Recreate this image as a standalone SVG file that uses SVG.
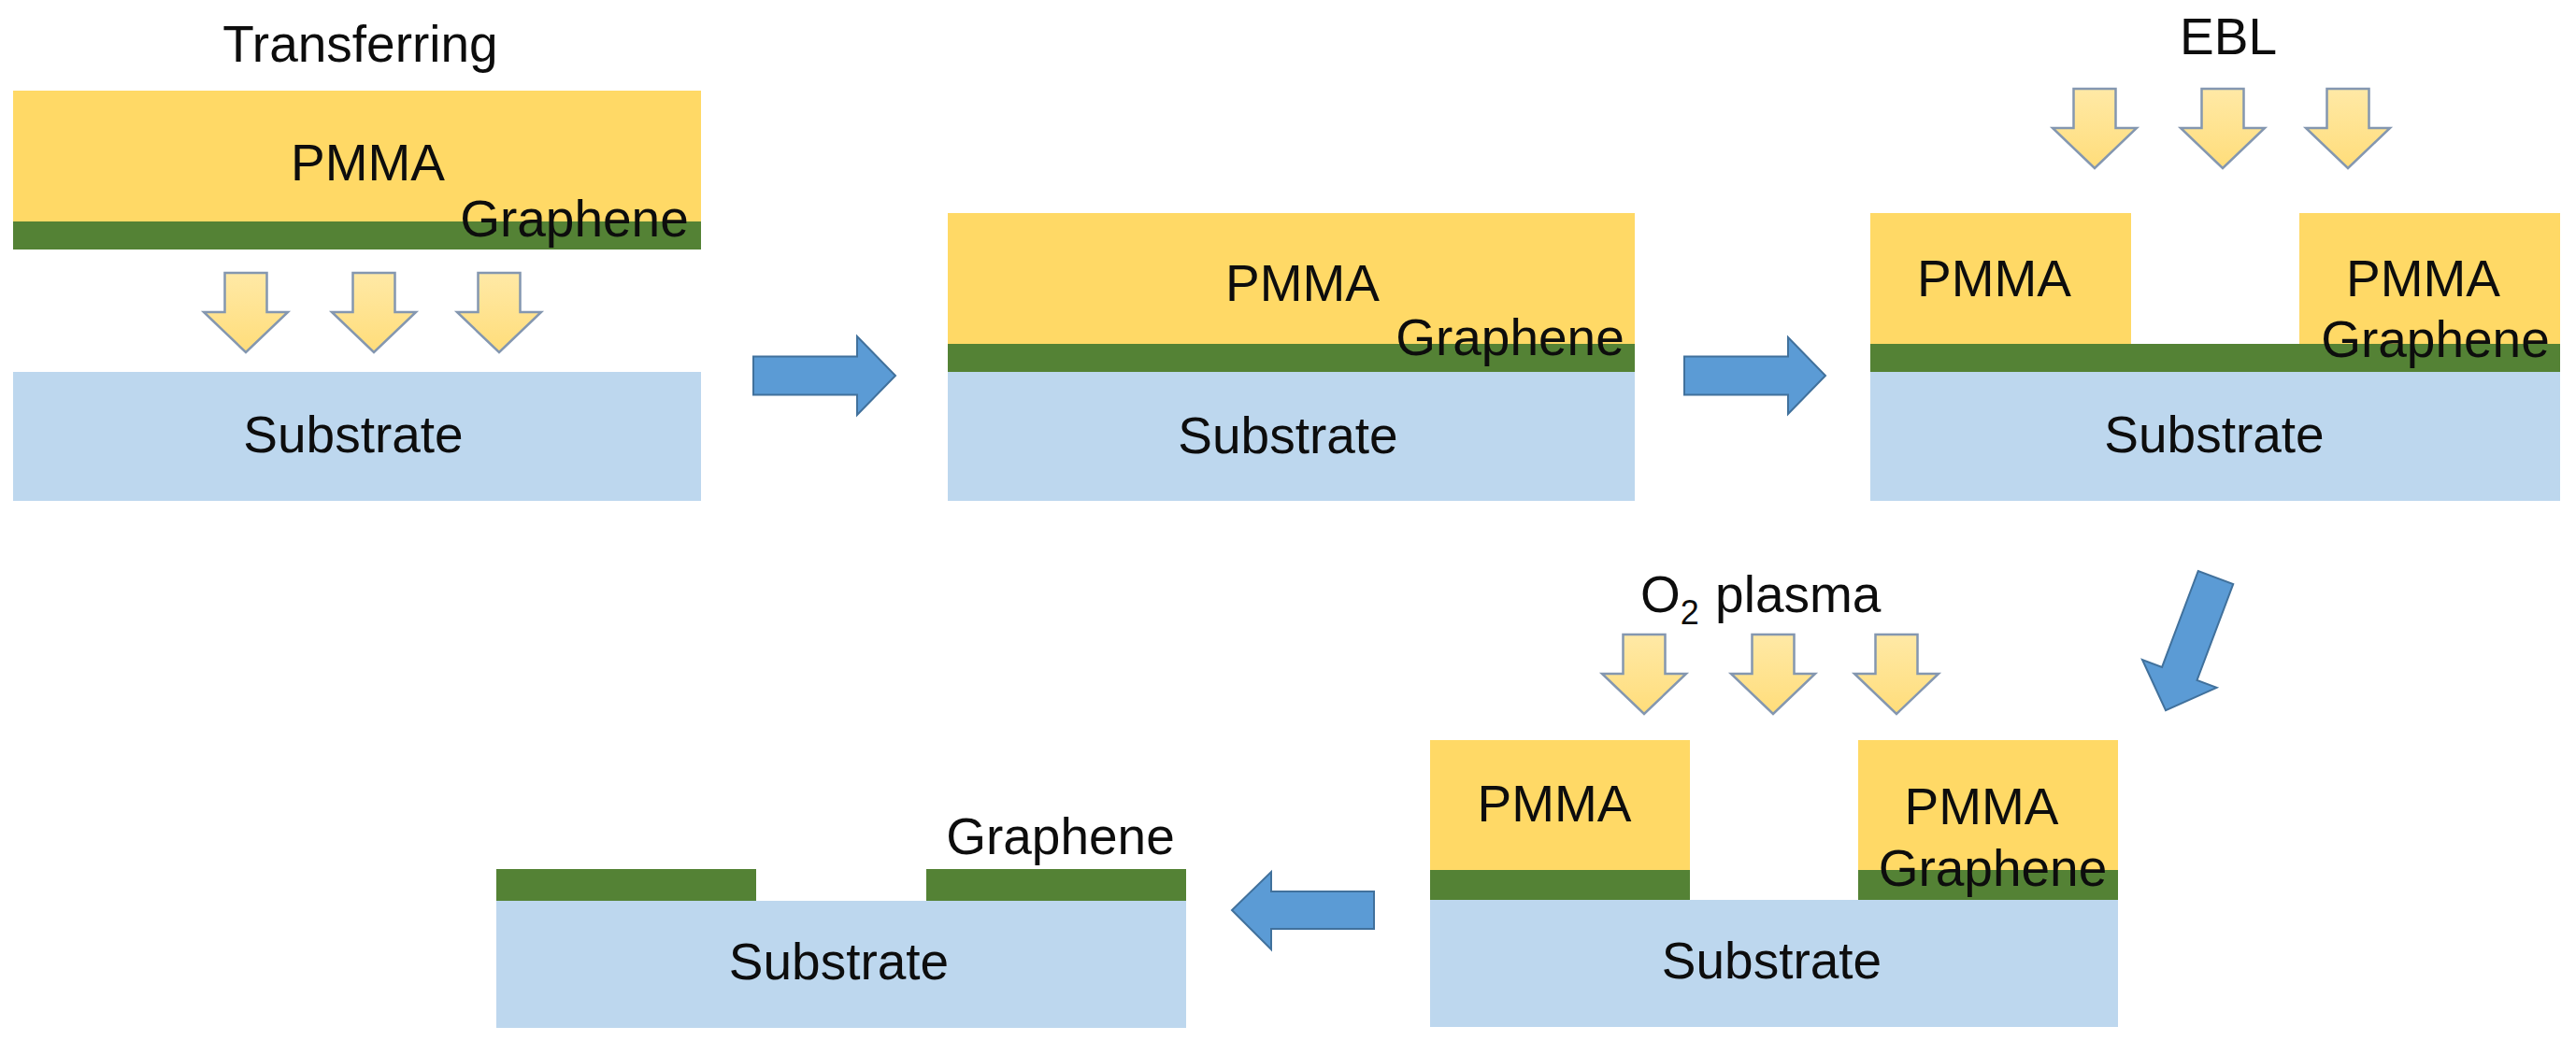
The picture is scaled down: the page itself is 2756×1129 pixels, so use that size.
<svg xmlns="http://www.w3.org/2000/svg" xmlns:xlink="http://www.w3.org/1999/xlink" width="2756" height="1129" viewBox="0 0 2756 1129">
<style>
.pmma{fill:#FFD966}
.gr{fill:#548235}
.sub{fill:#BDD7EE}
.t{font-family:"Liberation Sans",Arial,sans-serif;font-size:55px;fill:#0d0d0d}
.m{text-anchor:middle}
.ya{fill:url(#yg);stroke:#8497B0;stroke-width:2.5;stroke-linejoin:miter}
.ba{fill:#5B9BD5;stroke:#41719C;stroke-width:2}
</style>
<defs>
<linearGradient id="yg" x1="0" y1="0" x2="0" y2="1">
<stop offset="0" stop-color="#FFE9A6"/>
<stop offset="1" stop-color="#FFDD7A"/>
</linearGradient>
<polygon id="ydown" points="-22.5,-85 22.5,-85 22.5,-43 45,-43 0,0 -45,-43 -22.5,-43"/>
</defs>
<rect width="2756" height="1129" fill="#ffffff"/>

<g id="panel1">
<rect class="pmma" x="14" y="97" width="736" height="140"/>
<rect class="gr" x="14" y="237" width="736" height="30"/>
<rect class="sub" x="14" y="398" width="736" height="138"/>
<text class="t m" x="385.5" y="66">Transferring</text>
<text class="t m" x="393.5" y="193">PMMA</text>
<text class="t m" x="614.5" y="253">Graphene</text>
<text class="t m" x="378" y="484">Substrate</text>
<use xlink:href="#ydown" class="ya" x="263" y="377"/>
<use xlink:href="#ydown" class="ya" x="400" y="377"/>
<use xlink:href="#ydown" class="ya" x="534" y="377"/>
</g>

<g id="panel2">
<rect class="pmma" x="1014" y="228" width="735" height="140"/>
<rect class="gr" x="1014" y="368" width="735" height="30"/>
<rect class="sub" x="1014" y="398" width="735" height="138"/>
<text class="t m" x="1393.5" y="322">PMMA</text>
<text class="t m" x="1615.5" y="380">Graphene</text>
<text class="t m" x="1378" y="485">Substrate</text>
</g>

<g id="panel3">
<rect class="pmma" x="2001" y="228" width="279" height="140"/>
<rect class="pmma" x="2460" y="228" width="279" height="140"/>
<rect class="gr" x="2001" y="368" width="738" height="30"/>
<rect class="sub" x="2001" y="398" width="738" height="138"/>
<text class="t m" x="2384" y="58">EBL</text>
<text class="t m" x="2133.5" y="317">PMMA</text>
<text class="t m" x="2592.5" y="317">PMMA</text>
<text class="t m" x="2605.5" y="382">Graphene</text>
<text class="t m" x="2369" y="484">Substrate</text>
<use xlink:href="#ydown" class="ya" x="2241" y="180"/>
<use xlink:href="#ydown" class="ya" x="2378" y="180"/>
<use xlink:href="#ydown" class="ya" x="2512" y="180"/>
</g>

<g id="panel4">
<rect class="pmma" x="1530" y="792" width="278" height="139"/>
<rect class="pmma" x="1988" y="792" width="278" height="139"/>
<rect class="gr" x="1530" y="931" width="278" height="32"/>
<rect class="gr" x="1988" y="931" width="278" height="32"/>
<rect class="sub" x="1530" y="963" width="736" height="136"/>
<text class="t" x="1755" y="655">O<tspan font-size="36" dy="13">2</tspan><tspan dx="2" dy="-13"> plasma</tspan></text>
<text class="t m" x="1663" y="879">PMMA</text>
<text class="t m" x="2120" y="882">PMMA</text>
<text class="t m" x="2132" y="948">Graphene</text>
<text class="t m" x="1895.5" y="1047">Substrate</text>
<use xlink:href="#ydown" class="ya" x="1759" y="764"/>
<use xlink:href="#ydown" class="ya" x="1897" y="764"/>
<use xlink:href="#ydown" class="ya" x="2029" y="764"/>
</g>

<g id="panel5">
<rect class="gr" x="531" y="930" width="278" height="34"/>
<rect class="gr" x="991" y="930" width="278" height="34"/>
<rect class="sub" x="531" y="964" width="738" height="136"/>
<text class="t m" x="1134.5" y="914">Graphene</text>
<text class="t m" x="897.5" y="1048">Substrate</text>
</g>

<g id="connectors">
<polygon class="ba" points="806,381.5 917,381.5 917,360 958,402 917,444 917,422.5 806,422.5"/>
<polygon class="ba" points="1802,381.5 1913,381.5 1913,361 1953,402 1913,443 1913,422.5 1802,422.5"/>
<polygon class="ba" transform="translate(2370.5,618) rotate(110.6)" points="0,-20 110,-20 110,-42.5 152,0 110,42.5 110,20 0,20"/>
<polygon class="ba" points="1470,954 1360,954 1360,933 1318,974 1360,1016 1360,994 1470,994"/>
</g>
</svg>
